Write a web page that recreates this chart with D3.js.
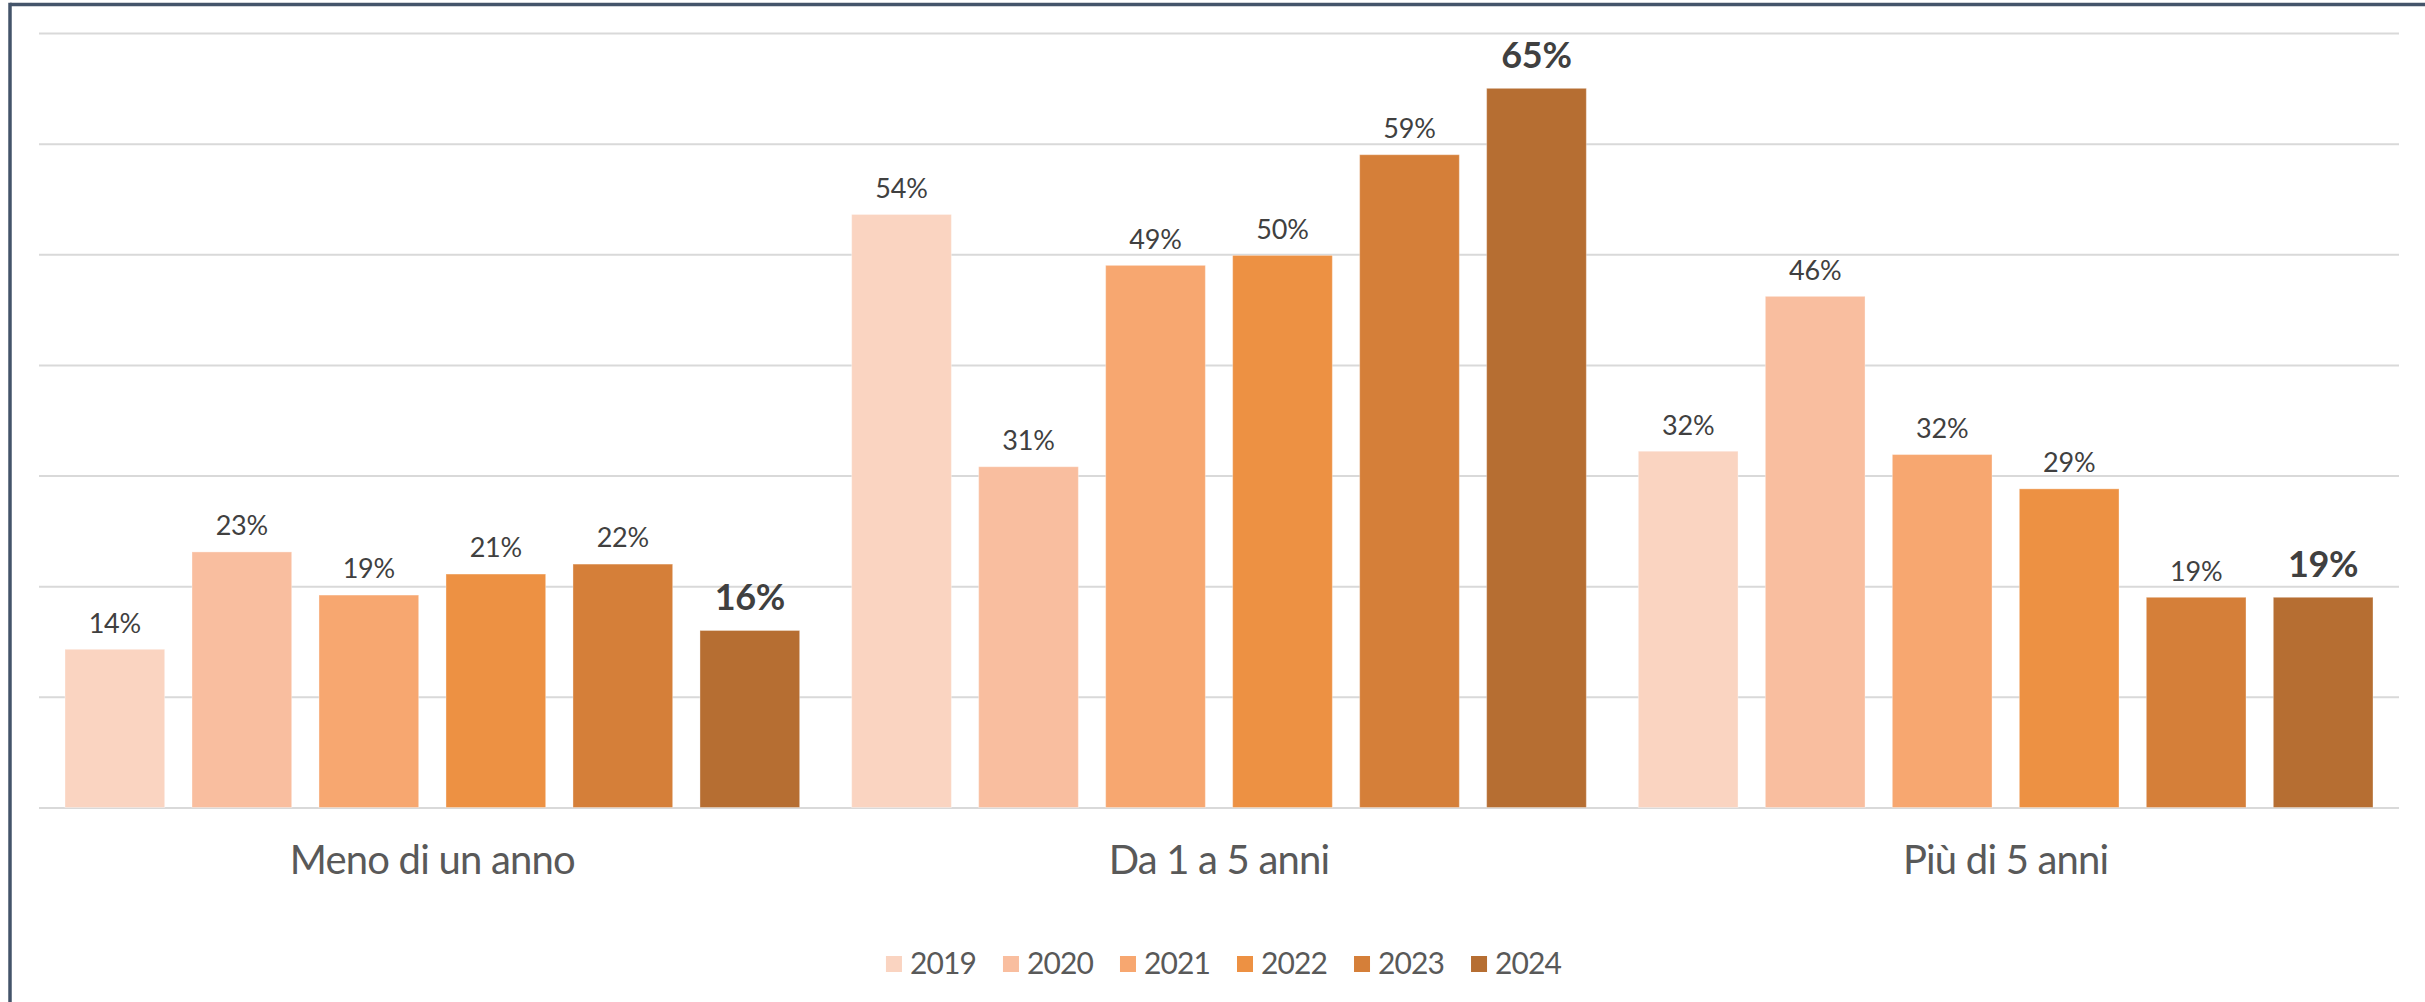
<!DOCTYPE html>
<html>
<head>
<meta charset="utf-8">
<script src="https://cdn.jsdelivr.net/npm/d3@7"></script>
<style>
  html, body { margin: 0; padding: 0; background: #fff; }
  svg { display: block; }
  text { font-family: Lato, "Open Sans", sans-serif; }
</style>
</head>
<body>
<svg id="chart" width="2425" height="1002"></svg>
<script>
const categories = ["Meno di un anno", "Da 1 a 5 anni", "Più di 5 anni"];
const years = ["2019", "2020", "2021", "2022", "2023", "2024"];
const v2019 = [14.3, 53.6, 32.2];
const v2020 = [23.1, 30.8, 46.2];
const v2021 = [19.2, 49.0, 31.9];
const v2022 = [21.1, 49.9, 28.8];
const v2023 = [22.0, 59.0, 19.0];
const v2024 = [16.0, 65.0, 19.0];
const labels2019 = ["14%", "54%", "32%"];
const labels2020 = ["23%", "31%", "46%"];
const labels2021 = ["19%", "49%", "32%"];
const labels2022 = ["21%", "50%", "29%"];
const labels2023 = ["22%", "59%", "19%"];
const labels2024 = ["16%", "65%", "19%"];
const yTicks = [0, 10, 20, 30, 40, 50, 60, 70];
const colors = ["#FAD4C1", "#F9BE9F", "#F7A770", "#ED9143", "#D57F39", "#B66E32"];

const seriesValues = [v2019, v2020, v2021, v2022, v2023, v2024];
const seriesLabels = [labels2019, labels2020, labels2021, labels2022, labels2023, labels2024];

const svg = d3.select("#chart");

// Frame (left and top edges visible)
svg.append("line").attr("x1", 10).attr("y1", 4.5).attr("x2", 2425).attr("y2", 4.5)
  .attr("stroke", "#44546A").attr("stroke-width", 3.5);
svg.append("line").attr("x1", 10).attr("y1", 2.8).attr("x2", 10).attr("y2", 1002)
  .attr("stroke", "#44546A").attr("stroke-width", 3.5);

const plotLeft = 39, plotRight = 2399, plotTop = 33, plotBottom = 807.5;

const y = d3.scaleLinear().domain([0, 70]).range([plotBottom, plotTop]);
const x0 = d3.scaleBand().domain(categories).range([plotLeft, plotRight]).padding(0);
const groupPad = 26;
const x1 = d3.scaleBand().domain(years).range([groupPad, x0.bandwidth() - groupPad]).paddingInner(0.215).paddingOuter(0);

// Gridlines
const grid = d3.axisLeft(y).tickValues(yTicks).tickSize(-(plotRight - plotLeft)).tickFormat("");
const gg = svg.append("g").attr("transform", `translate(${plotLeft},0)`).call(grid);
gg.select(".domain").remove();
gg.selectAll(".tick line").attr("stroke", "#D9D9D9").attr("stroke-width", 2);

// Bars
const groups = svg.append("g").selectAll("g.grp")
  .data(categories).join("g")
  .attr("transform", d => `translate(${x0(d)},0)`);

groups.each(function(cat, ci) {
  const g = d3.select(this);
  years.forEach((yr, si) => {
    const v = seriesValues[si][ci];
    g.append("rect")
      .attr("x", x1(yr))
      .attr("y", y(v))
      .attr("width", x1.bandwidth())
      .attr("height", y(0) - y(v))
      .attr("fill", colors[si])
      .attr("stroke", "#ffffff")
      .attr("stroke-opacity", 0.35)
      .attr("stroke-width", 1);
    const bold = si === years.length - 1;
    g.append("text")
      .attr("x", x1(yr) + x1.bandwidth() / 2)
      .attr("y", y(v) - (bold ? 20 : 16.7))
      .attr("text-anchor", "middle")
      .attr("font-size", bold ? 36 : 27)
      .attr("font-weight", bold ? 700 : 400)
      .attr("letter-spacing", bold ? "-0.3px" : "-0.2px")
      .attr("fill", "#404040")
      .text(seriesLabels[si][ci]);
  });
});

// Category axis
const xAxis = d3.axisBottom(x0).tickSize(0).tickPadding(0);
const xg = svg.append("g").attr("transform", `translate(0,${plotBottom})`).call(xAxis);
xg.select(".domain").remove();
xg.selectAll(".tick text")
  .attr("y", 66.8).attr("dy", null)
  .attr("font-family", "Lato, sans-serif")
  .attr("font-size", 40)
  .attr("letter-spacing", "-0.8px")
  .attr("fill", "#595959");

// Legend
const legend = svg.append("g");
const items = legend.selectAll("g.item").data(years).join("g");
items.append("rect").attr("width", 16).attr("height", 16).attr("y", 956)
  .attr("fill", (d, i) => colors[i]);
items.append("text").attr("x", 24).attr("y", 974)
  .attr("font-size", 30).attr("letter-spacing", "-0.9px").attr("fill", "#595959").text(d => d);
let widths = [];
items.each(function() { widths.push(24 + d3.select(this).select("text").node().getComputedTextLength()); });
const gap = 27;
const total = d3.sum(widths) + gap * (widths.length - 1);
let cx = 1223.5 - total / 2;
items.each(function(d, i) {
  d3.select(this).attr("transform", `translate(${cx},0)`);
  cx += widths[i] + gap;
});
</script>
</body>
</html>
